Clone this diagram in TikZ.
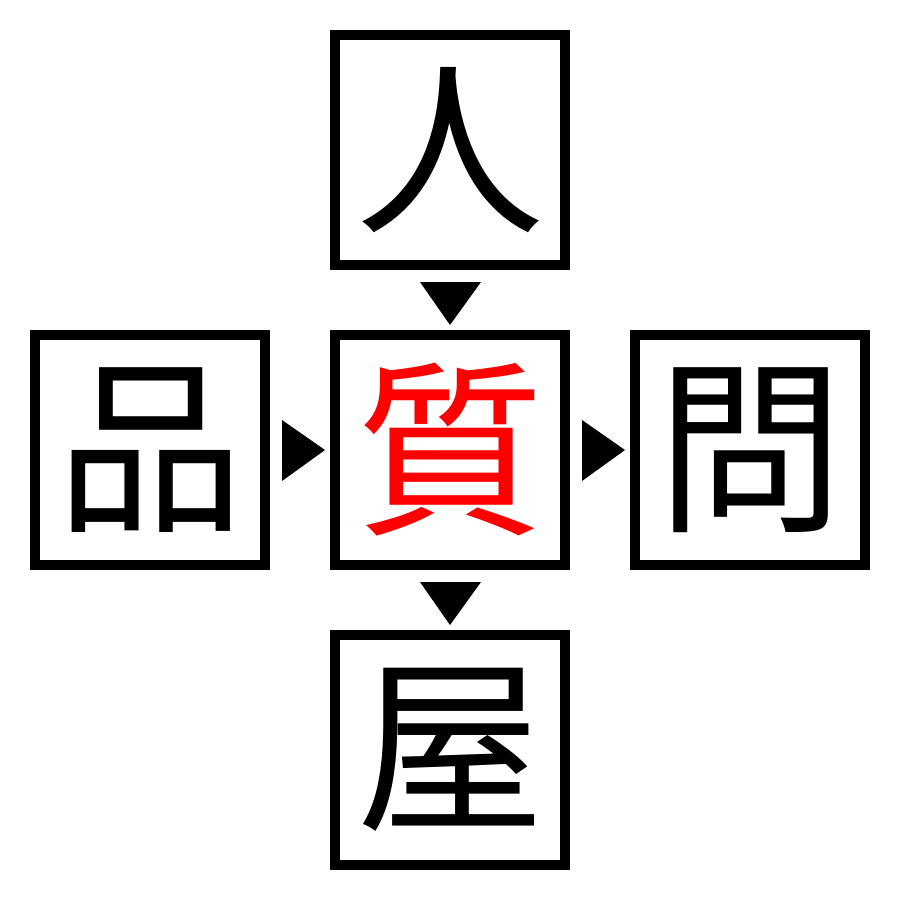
\documentclass[tikz,border=0pt]{standalone}
\usepackage{fontspec}
\newfontfamily\cjk{Noto Sans CJK JP}
\begin{document}
\begin{tikzpicture}[x=1pt,y=-1pt,
  kbox/.style={draw=black,line width=10pt,minimum size=230pt,inner sep=0pt,
    font=\cjk\fontsize{188}{188}\selectfont},
  tri/.style={fill=black,draw=none}]
\useasboundingbox (0,0) rectangle (900,900);
\fill[white] (0,0) rectangle (900,900);
\node[kbox] (top) at (450,150) {人};
\node[kbox] (left) at (150,450) {品};
\node[kbox,text=red] (mid) at (450,450) {質};
\node[kbox] (right) at (750,450) {問};
\node[kbox] (bot) at (450,750) {屋};
\fill[tri] (420,282) -- (481,282) -- (450,325) -- cycle;
\fill[tri] (420,582) -- (481,582) -- (450,625) -- cycle;
\fill[tri] (282,420) -- (282,481) -- (325,450) -- cycle;
\fill[tri] (582,420) -- (582,481) -- (625,450) -- cycle;
\end{tikzpicture}
\end{document}
